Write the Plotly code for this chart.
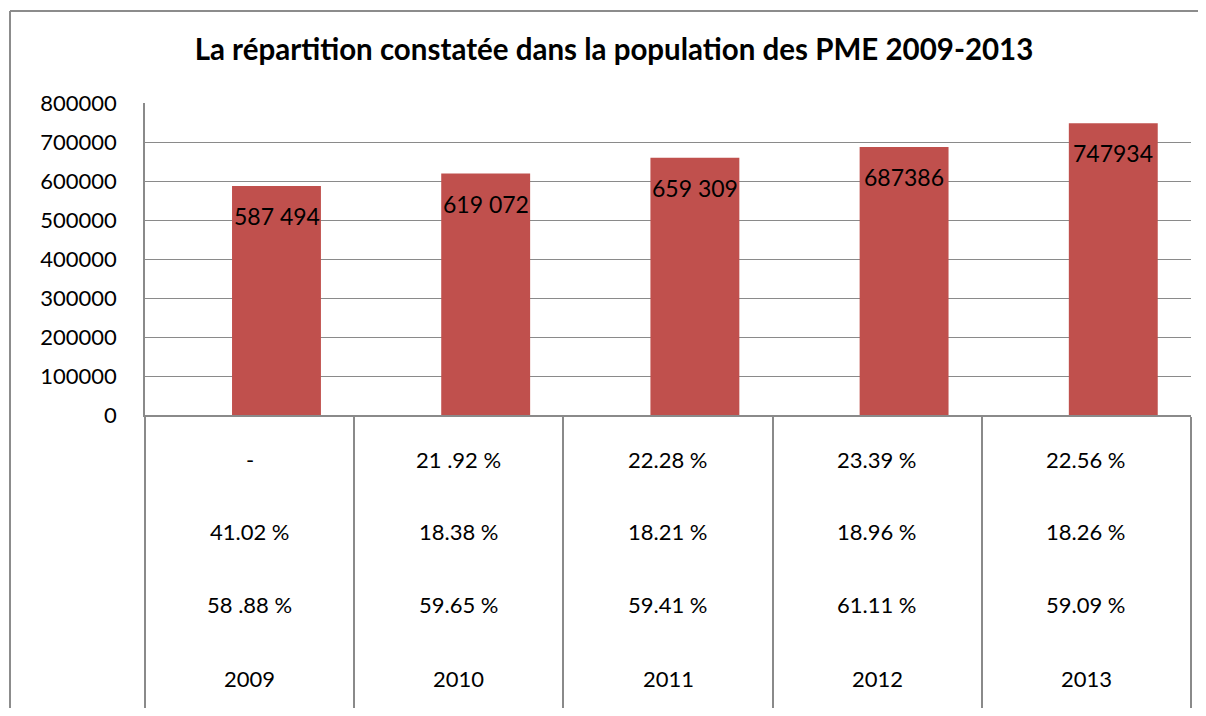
import plotly.graph_objects as go

years = ["2009", "2010", "2011", "2012", "2013"]
population = [587494, 619072, 659309, 687386, 747934]
value_labels = ["587 494", "619 072", "659 309", "687386", "747934"]
row1 = ["-", "21 .92 %", "22.28 %", "23.39 %", "22.56 %"]
row2 = ["41.02 %", "18.38 %", "18.21 %", "18.96 %", "18.26 %"]
row3 = ["58 .88 %", "59.65 %", "59.41 %", "61.11 %", "59.09 %"]
y_ticks = [0, 100000, 200000, 300000, 400000, 500000, 600000, 700000, 800000]
title_text = "La répartition constatée dans la population des PME 2009-2013"

FONT = "Lato, 'Open Sans', sans-serif"
GRID = "#8a8a8a"
BAR = "#C0504D"

OFF = 8  # default page body margin
W, H = 1206 - 2 * OFF, 716 - 2 * OFF
ML, MT = 145 - OFF, 103 - OFF
MR = (OFF + W) - 1191
MB = (OFF + H) - 415
PW = W - ML - MR
PH = H - MT - MB
BASE = MT + PH  # pixel row of the zero line inside the figure

fig = go.Figure()
fig.add_trace(go.Bar(
    x=years, y=population,
    marker=dict(color=BAR, line=dict(width=0)),
    width=0.425, offset=-0.084,
    hoverinfo="x+y",
))

annotations = []
# data labels inside bars
for i, (v, lab) in enumerate(zip(population, value_labels)):
    annotations.append(dict(x=i, y=v, xref="x", yref="y", text=lab,
                            showarrow=False, yanchor="middle", yshift=-30,
                            xshift=27,
                            font=dict(family=FONT, size=23, color="#000")))
# table rows (pixel rows measured from the window top)
rows = [(row1, 459), (row2, 531), (row3, 604), (years, 678)]
for vals, py in rows:
    for i, t in enumerate(vals):
        annotations.append(dict(x=i, y=0, xref="x", yref="paper", text=t,
                                showarrow=False, yanchor="middle",
                                yshift=-((py - OFF) - BASE),
                                font=dict(family=FONT, size=22, color="#000")))

# outer border of the chart (top and left edges; cropped at right and bottom)
bx0 = (10 - 145) / PW
by1 = 1 + (103 - 11) / PH
border = dict(color="#8c8c8c", width=2)
shapes = [
    dict(type="line", xref="paper", yref="paper", x0=bx0, x1=1.2, y0=by1, y1=by1,
         line=border, layer="below"),
    dict(type="line", xref="paper", yref="paper", x0=bx0, x1=bx0, y0=by1, y1=-1.5,
         line=border, layer="below"),
]

fig.update_layout(
    width=W, height=H,
    margin=dict(l=ML, r=MR, t=MT, b=MB, pad=0, autoexpand=False),
    paper_bgcolor="white", plot_bgcolor="white",
    showlegend=False,
    title=dict(text="<b>" + title_text + "</b>", x=(614 - OFF) / W, xref="container",
               y=1 - (50 - OFF) / H, yref="container", xanchor="center", yanchor="middle",
               font=dict(family=FONT, size=29.5, color="#000")),
    xaxis=dict(type="category", range=[-0.5, 4.5], showgrid=False, automargin=False,
               showline=True, linecolor=GRID, linewidth=1.5,
               ticks="outside", tickson="boundaries", ticklen=293,
               tickcolor=GRID, tickwidth=1.5, showticklabels=False),
    yaxis=dict(range=[0, 800000], tickvals=y_ticks, automargin=False,
               ticktext=[str(v) for v in y_ticks],
               showgrid=True, gridcolor=GRID, gridwidth=1.3,
               showline=True, linecolor=GRID, linewidth=1.5,
               zeroline=False, ticks="", ticklabelstandoff=22,
               tickfont=dict(family=FONT, size=22, color="#000")),
    annotations=annotations,
    shapes=shapes,
    bargap=0.5,
)

fig.write_html("out.html")
